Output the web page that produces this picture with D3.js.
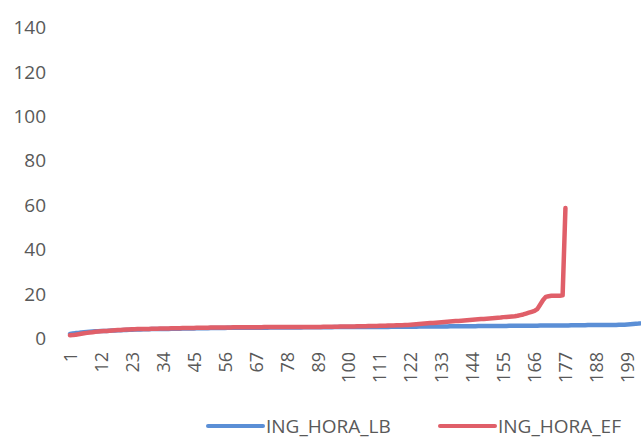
<!DOCTYPE html>
<html>
<head>
<meta charset="utf-8">
<script src="https://cdn.jsdelivr.net/npm/d3@7"></script>
<style>
  html, body { margin: 0; padding: 0; background: #fff; overflow: hidden; }
  svg { display: block; }
</style>
</head>
<body>
<svg id="chart" width="641" height="441"></svg>
<script>
// ---- data ----
const seriesNames = ["ING_HORA_LB", "ING_HORA_EF"];
const yTicks = [0, 20, 40, 60, 80, 100, 120, 140];
const xTickLabels = [1, 12, 23, 34, 45, 56, 67, 78, 89, 100, 111, 122, 133, 144, 155, 166, 177, 188, 199];

const ingHoraLB = [
  1.8, 2.0, 2.2, 2.3, 2.5, 2.6, 2.7, 2.8, 2.9, 3.0, 3.0,
  3.1, 3.2, 3.2, 3.3, 3.4, 3.4, 3.5, 3.5, 3.6, 3.6, 3.7,
  3.7, 3.8, 3.8, 3.8, 3.9, 3.9, 3.9, 4.0, 4.0, 4.0, 4.1,
  4.1, 4.1, 4.1, 4.2, 4.2, 4.2, 4.2, 4.3, 4.3, 4.3, 4.3,
  4.3, 4.4, 4.4, 4.4, 4.4, 4.4, 4.5, 4.5, 4.5, 4.5, 4.5,
  4.5, 4.6, 4.6, 4.6, 4.6, 4.6, 4.6, 4.6, 4.6, 4.6, 4.6,
  4.6, 4.6, 4.6, 4.6, 4.6, 4.7, 4.7, 4.7, 4.7, 4.7, 4.7,
  4.7, 4.7, 4.7, 4.7, 4.7, 4.7, 4.8, 4.8, 4.8, 4.8, 4.8,
  4.8, 4.8, 4.8, 4.8, 4.8, 4.8, 4.9, 4.9, 4.9, 4.9, 4.9,
  4.9, 4.9, 4.9, 4.9, 5.0, 5.0, 5.0, 5.0, 5.0, 5.0, 5.0,
  5.0, 5.0, 5.0, 5.0, 5.1, 5.1, 5.1, 5.1, 5.1, 5.1, 5.1,
  5.1, 5.1, 5.1, 5.2, 5.2, 5.2, 5.2, 5.2, 5.2, 5.2, 5.2,
  5.2, 5.2, 5.2, 5.3, 5.3, 5.3, 5.3, 5.3, 5.3, 5.3, 5.3,
  5.3, 5.3, 5.4, 5.4, 5.4, 5.4, 5.4, 5.4, 5.4, 5.4, 5.4,
  5.4, 5.4, 5.5, 5.5, 5.5, 5.5, 5.5, 5.5, 5.5, 5.5, 5.5,
  5.5, 5.5, 5.6, 5.6, 5.6, 5.6, 5.6, 5.6, 5.6, 5.6, 5.6,
  5.6, 5.6, 5.7, 5.7, 5.7, 5.7, 5.7, 5.7, 5.8, 5.8, 5.8,
  5.8, 5.8, 5.8, 5.8, 5.8, 5.9, 5.9, 5.9, 6.0, 6.0, 6.0,
  6.1, 6.2, 6.3, 6.4, 6.5, 6.7, 7.0
];

const ingHoraEF = [
  1.2, 1.3, 1.5, 1.7, 1.9, 2.1, 2.3, 2.5, 2.6, 2.8, 2.9,
  3.0, 3.1, 3.2, 3.3, 3.4, 3.5, 3.6, 3.6, 3.7, 3.8, 3.8,
  3.9, 3.9, 4.0, 4.0, 4.1, 4.1, 4.1, 4.2, 4.2, 4.2, 4.3,
  4.3, 4.3, 4.3, 4.4, 4.4, 4.4, 4.4, 4.5, 4.5, 4.5, 4.5,
  4.5, 4.6, 4.6, 4.6, 4.6, 4.6, 4.7, 4.7, 4.7, 4.7, 4.7,
  4.7, 4.7, 4.7, 4.8, 4.8, 4.8, 4.8, 4.8, 4.8, 4.8, 4.8,
  4.8, 4.8, 4.8, 4.9, 4.9, 4.9, 4.9, 4.9, 4.9, 4.9, 4.9,
  4.9, 4.9, 5.0, 5.0, 5.0, 5.0, 5.0, 5.0, 5.0, 5.0, 5.0,
  5.0, 5.0, 5.1, 5.1, 5.1, 5.1, 5.1, 5.1, 5.2, 5.2, 5.2,
  5.2, 5.2, 5.2, 5.3, 5.3, 5.3, 5.3, 5.4, 5.4, 5.4, 5.4,
  5.5, 5.5, 5.5, 5.6, 5.6, 5.6, 5.7, 5.7, 5.7, 5.8, 5.9,
  6.0, 6.1, 6.2, 6.3, 6.4, 6.5, 6.6, 6.7, 6.8, 6.9, 7.0,
  7.1, 7.2, 7.3, 7.4, 7.5, 7.6, 7.7, 7.8, 7.9, 8.0, 8.1,
  8.2, 8.3, 8.4, 8.5, 8.6, 8.7, 8.8, 8.9, 9.0, 9.1, 9.2,
  9.4, 9.5, 9.6, 9.7, 9.8, 10.0, 10.3, 10.6, 11.0, 11.4, 11.8,
  12.2, 13.0, 15.0, 17.0, 18.5, 18.8, 19.0, 19.0, 19.0, 19.0, 19.2,
  58.5
];

const colors = ["#5b8fd6", "#e05f69"];

// ---- chart ----
const svg = d3.select("#chart");
const font = "Open Sans, 'Noto Sans', sans-serif";
const textColor = "#595959";

const categories = d3.range(1, 211);
const x = d3.scalePoint().domain(categories).range([70, 70 + 209 * 2.815]);
const y = d3.scaleLinear().domain([0, 140]).range([338, 27]);

// Y axis (labels only)
const yAxis = d3.axisLeft(y).tickValues(yTicks).tickSize(0).tickPadding(0);
const gy = svg.append("g").attr("transform", "translate(46,0)").call(yAxis);
gy.select(".domain").remove();
gy.selectAll("text")
  .attr("font-family", font).attr("font-size", 19).attr("fill", textColor)
  .attr("dy", "0.35em");

// X axis (rotated labels)
const xAxis = d3.axisBottom(x).tickValues(xTickLabels).tickSize(0).tickPadding(0);
const gx = svg.append("g").attr("transform", "translate(0,352)").call(xAxis);
gx.select(".domain").remove();
gx.selectAll("text")
  .attr("font-family", font).attr("font-size", 18).attr("fill", textColor)
  .attr("text-anchor", "end")
  .attr("transform", "rotate(-90)")
  .attr("x", 0).attr("y", 0).attr("dy", "0.35em");

// lines
const line = d3.line()
  .x((d, i) => x(categories[i]))
  .y(d => y(d));

const allSeries = [ingHoraLB, ingHoraEF];
svg.append("g").selectAll("path")
  .data(allSeries)
  .join("path")
  .attr("d", d => line(d))
  .attr("fill", "none")
  .attr("stroke", (d, i) => colors[i])
  .attr("stroke-width", 4.5)
  .attr("stroke-linejoin", "round")
  .attr("stroke-linecap", "round");

// legend
const legendItems = [
  { name: seriesNames[0], color: colors[0], x0: 208 },
  { name: seriesNames[1], color: colors[1], x0: 440 }
];
const lg = svg.append("g");
legendItems.forEach(it => {
  lg.append("line")
    .attr("x1", it.x0).attr("x2", it.x0 + 55)
    .attr("y1", 426).attr("y2", 426)
    .attr("stroke", it.color).attr("stroke-width", 4).attr("stroke-linecap", "round");
  lg.append("text")
    .attr("x", it.x0 + 58).attr("y", 426).attr("dy", "0.35em")
    .attr("font-family", font).attr("font-size", 19).attr("fill", textColor)
    .text(it.name);
});
</script>
</body>
</html>
